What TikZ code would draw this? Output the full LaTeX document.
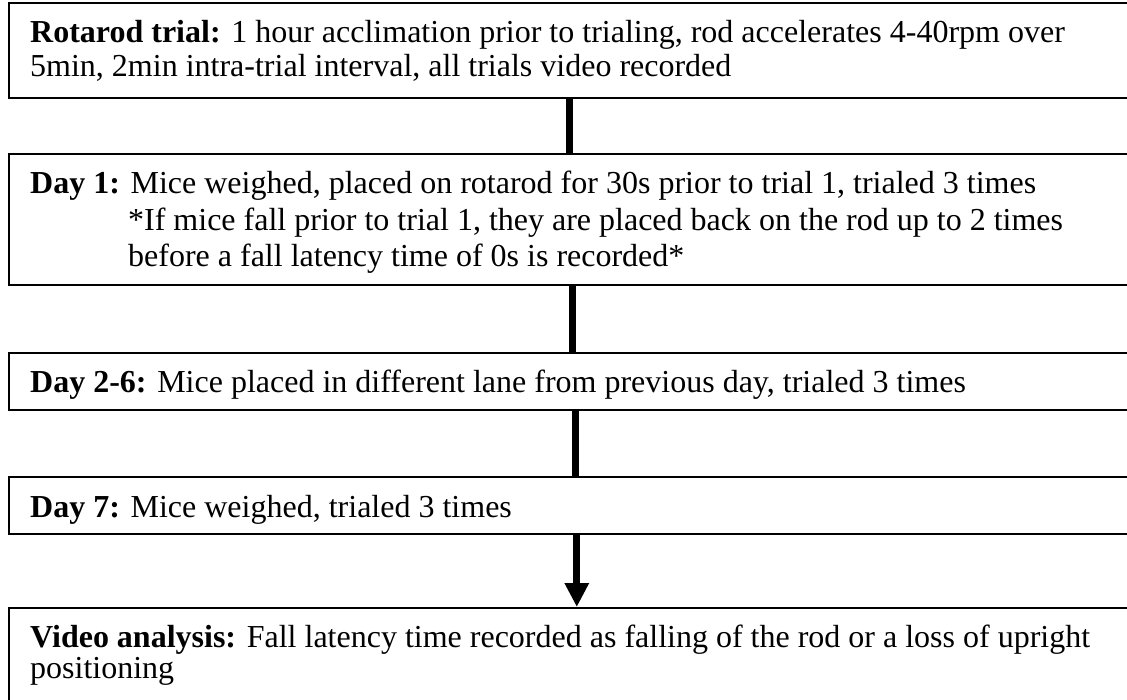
\documentclass[tikz,border=0pt]{standalone}
\usepackage{fontspec}
\setmainfont{Liberation Serif}
\usetikzlibrary{arrows.meta}
\begin{document}
\begin{tikzpicture}[x=1pt,y=-1pt,
  stage/.style={draw=black, line width=1.6pt, minimum width=1170pt,
    anchor=north west, inner sep=0pt},
  label/.style={anchor=base west, inner sep=0pt, align=left},
  link/.style={line width=7pt, black}]
\useasboundingbox (0,0) rectangle (1127,700);

% stage boxes (they run past the right and bottom edges)
\node[stage, minimum height=95pt]  (b1) at (8,2)   {};
\node[stage, minimum height=131pt] (b2) at (8,153) {};
\node[stage, minimum height=57pt]  (b3) at (8,352) {};
\node[stage, minimum height=57pt]  (b4) at (8,476) {};
\node[stage, minimum height=130pt] (b5) at (8,607) {};

% stage texts, each placed by the baseline of its last line
\node[label, font=\fontsize{32}{34}\selectfont] (t1) at (30,77)
  {\textbf{Rotarod trial:} 1 hour acclimation prior to trialing, rod accelerates 4-40rpm over\\
   5min, 2min intra-trial interval, all trials video recorded};
\node[label, font=\fontsize{32}{36.5}\selectfont] (t2) at (30,267)
  {\textbf{Day 1:} Mice weighed, placed on rotarod for 30s prior to trial 1, trialed 3 times\\
   \hspace*{98pt}*If mice fall prior to trial 1, they are placed back on the rod up to 2 times\\
   \hspace*{98pt}before a fall latency time of 0s is recorded*};
\node[label, font=\fontsize{32}{34}\selectfont] (t3) at (30,392)
  {\textbf{Day 2-6:} Mice placed in different lane from previous day, trialed 3 times};
\node[label, font=\fontsize{32}{34}\selectfont] (t4) at (30,517)
  {\textbf{Day 7:} Mice weighed, trialed 3 times};
\node[label, font=\fontsize{32}{31}\selectfont] (t5) at (30,678)
  {\textbf{Video analysis:} Fall latency time recorded as falling of the rod or a loss of upright\\
   positioning};

% connectors
\draw[link] ([xshift=-24pt]b1.south) -- ([xshift=-24pt]b2.north);
\draw[link] ([xshift=-21pt]b2.south) -- ([xshift=-21pt]b3.north);
\draw[link] ([xshift=-18pt]b3.south) -- ([xshift=-18pt]b4.north);
\draw[link, -{Triangle[width=23pt,length=24pt]}]
  ([xshift=-17pt]b4.south) -- ([xshift=-17pt]b5.north);
\end{tikzpicture}
\end{document}
